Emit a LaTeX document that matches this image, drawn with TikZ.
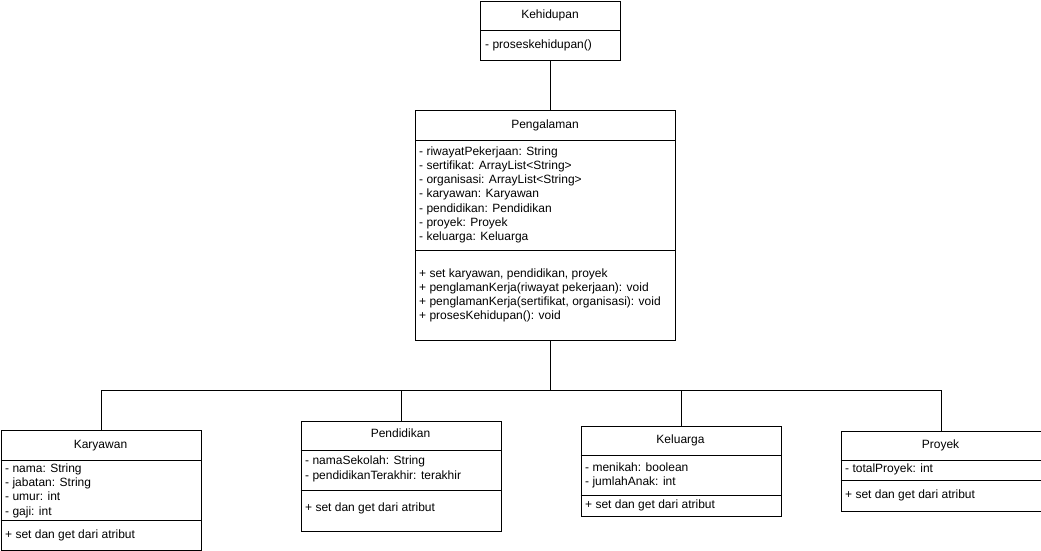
\documentclass[tikz,border=0pt]{standalone}
\usepackage{fontspec}
\setmainfont{Liberation Sans}
\begin{document}
\begin{tikzpicture}[x=1pt,y=-1pt,
  box/.style={draw=black, line width=1pt, fill=white, rectangle, inner sep=0pt, anchor=north west},
  txt/.style={inner sep=0pt, anchor=west, font=\fontsize{12}{14.4}\selectfont, text height=8.6pt, text depth=2.5pt},
  ttl/.style={inner sep=0pt, anchor=center, font=\fontsize{12}{14.4}\selectfont, text height=8.6pt, text depth=2.5pt},
  conn/.style={draw=black, line width=1pt},
  divider/.style={draw=black, line width=1pt}]
\useasboundingbox[fill=white] (0,0) rectangle (1041,551);

% ---------- Kehidupan ----------
\node[box, minimum width=140pt, minimum height=59pt] (keh) at (480,1) {};
\draw[divider] (480,31) -- (620,31);
\node[ttl] (keh-t) at (550,15) {Kehidupan};
\node[txt] (keh-m1) at (485,45) {- proseskehidupan()};

% ---------- Pengalaman ----------
\node[box, minimum width=260pt, minimum height=230pt] (peng) at (415,110) {};
\draw[divider] (415,140) -- (675,140);
\draw[divider] (415,250) -- (675,250);
\node[ttl] (peng-t) at (545,125) {Pengalaman};
\node[txt] (peng-a1) at (419,152) {- riwayatPekerjaan: String};
\node[txt] (peng-a2) at (419,166.3) {- sertifikat: ArrayList<String>};
\node[txt] (peng-a3) at (419,180.6) {- organisasi: ArrayList<String>};
\node[txt] (peng-a4) at (419,194.9) {- karyawan: Karyawan};
\node[txt] (peng-a5) at (419,209.2) {- pendidikan: Pendidikan};
\node[txt] (peng-a6) at (419,223.5) {- proyek: Proyek};
\node[txt] (peng-a7) at (419,237.8) {- keluarga: Keluarga};
\node[txt] (peng-m1) at (419,274) {+ set karyawan, pendidikan, proyek};
\node[txt] (peng-m2) at (419,288.3) {+ penglamanKerja(riwayat pekerjaan): void};
\node[txt] (peng-m3) at (419,302.6) {+ penglamanKerja(sertifikat, organisasi): void};
\node[txt] (peng-m4) at (419,316.9) {+ prosesKehidupan(): void};

% ---------- Karyawan ----------
\node[box, minimum width=200pt, minimum height=120pt] (kary) at (0.5,430) {};
\draw[divider] (0.5,460) -- (200.5,460);
\draw[divider] (0.5,520.5) -- (200.5,520.5);
\node[ttl] (kary-t) at (100.5,445) {Karyawan};
\node[txt] (kary-a1) at (5,469.3) {- nama: String};
\node[txt] (kary-a2) at (5,483.6) {- jabatan: String};
\node[txt] (kary-a3) at (5,497.9) {- umur: int};
\node[txt] (kary-a4) at (5,512.2) {- gaji: int};
\node[txt] (kary-m1) at (5,535) {+ set dan get dari atribut};

% ---------- Pendidikan ----------
\node[box, minimum width=200pt, minimum height=110pt] (pend) at (300.5,420.5) {};
\draw[divider] (300.5,450.5) -- (500.5,450.5);
\draw[divider] (300.5,490.5) -- (500.5,490.5);
\node[ttl] (pend-t) at (400.5,434) {Pendidikan};
\node[txt] (pend-a1) at (305,461.7) {- namaSekolah: String};
\node[txt] (pend-a2) at (305,476) {- pendidikanTerakhir: terakhir};
\node[txt] (pend-m1) at (305,508.7) {+ set dan get dari atribut};

% ---------- Keluarga ----------
\node[box, minimum width=200pt, minimum height=90pt] (kel) at (580.5,425.5) {};
\draw[divider] (580.5,455.5) -- (780.5,455.5);
\draw[divider] (580.5,495.5) -- (780.5,495.5);
\node[ttl] (kel-t) at (680.5,440) {Keluarga};
\node[txt] (kel-a1) at (585,468.3) {- menikah: boolean};
\node[txt] (kel-a2) at (585,482.4) {- jumlahAnak: int};
\node[txt] (kel-m1) at (585,505.3) {+ set dan get dari atribut};

% ---------- Proyek ----------
\node[box, minimum width=200pt, minimum height=80pt] (proy) at (840.5,430.5) {};
\draw[divider] (840.5,460.5) -- (1040.5,460.5);
\draw[divider] (840.5,480.5) -- (1040.5,480.5);
\node[ttl] (proy-t) at (940.5,445) {Proyek};
\node[txt] (proy-a1) at (845,469.3) {- totalProyek: int};
\node[txt] (proy-m1) at (845,495) {+ set dan get dari atribut};

% ---------- Connectors ----------
\coordinate (bus) at (550,390.5);
\draw[conn] (keh.south -| 550,0) -- (peng.north -| 550,0);
\draw[conn] (peng.south -| bus) -- (bus);
\draw[conn] (kary.north) |- (bus) -| (proy.north);
\draw[conn] (pend.north) -- (pend.north |- bus);
\draw[conn] (kel.north) -- (kel.north |- bus);
\end{tikzpicture}
\end{document}
